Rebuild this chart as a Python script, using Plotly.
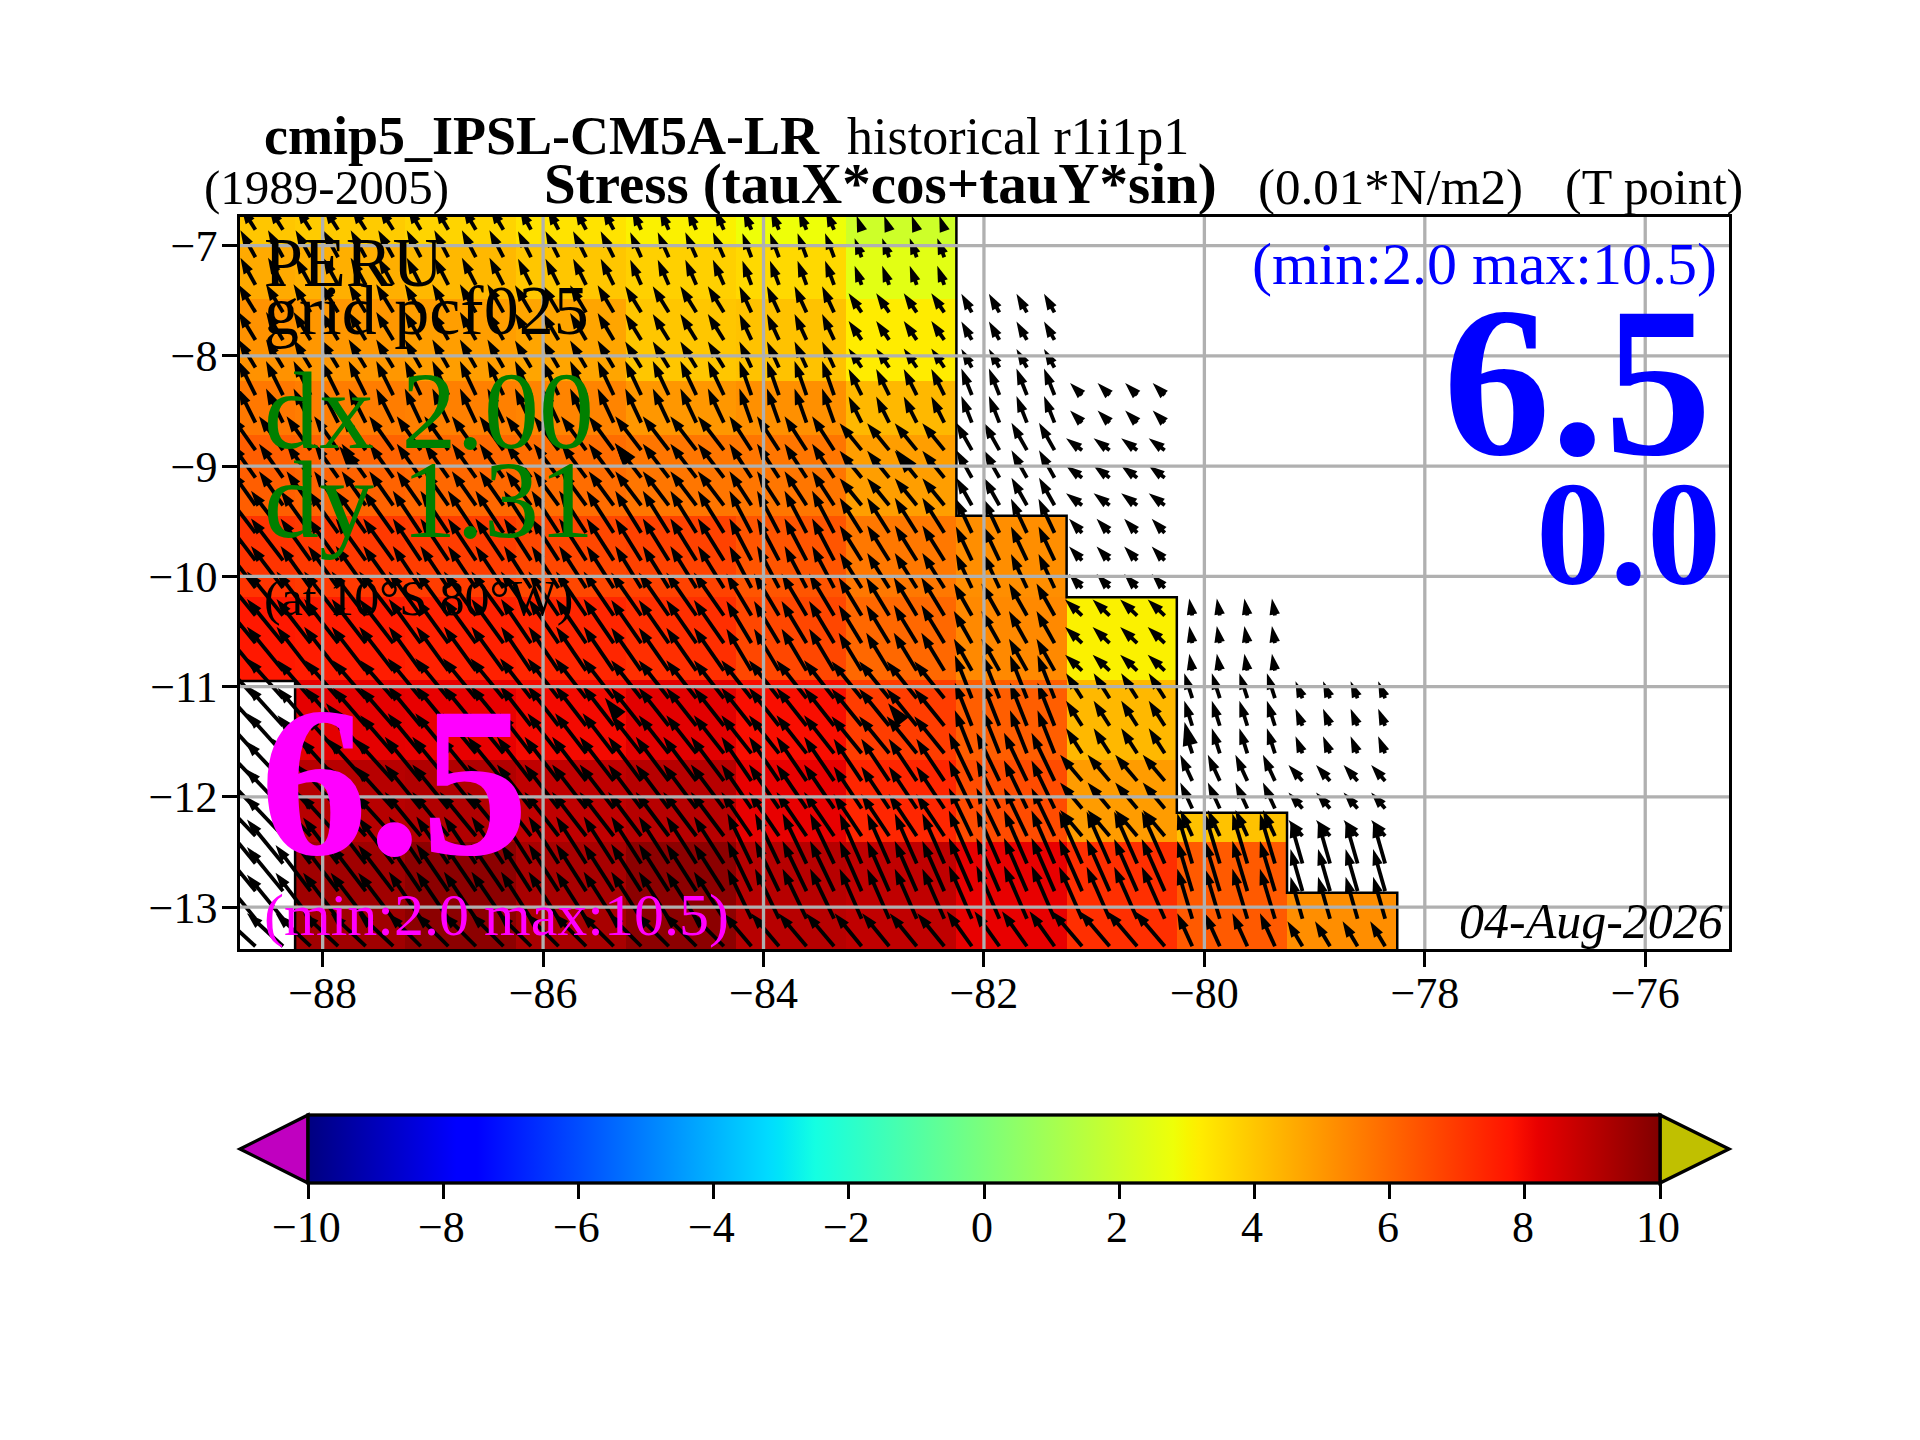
import math

import plotly.graph_objects as go

FIG_W, FIG_H = 1920, 1440
LEFT, RIGHT, TOP, BOTTOM = 240, 1729, 217, 949
FONT = "Liberation Serif"

# cell edges of the stress field (lon west to east, lat north to south)
LON_EDGES = [-88.75, -88.25, -87.25, -86.25, -85.25, -84.25, -83.25, -82.25, -81.25, -80.25, -79.25, -78.25]
LAT_EDGES = [-6.74, -7.0, -7.48, -8.225, -8.715, -9.45, -10.19, -10.94, -11.67, -12.145, -12.41, -12.87, -13.38]

N = None
STRESS = [
    [4.0, 3.9, 3.7, 3.4, 3.1, 2.8, 2.0, N, N, N, N],
    [4.6, 4.5, 4.3, 4.0, 3.8, 3.6, 2.5, N, N, N, N],
    [5.1, 5.0, 4.85, 4.7, 4.0, 4.1, 3.2, N, N, N, N],
    [5.65, 5.55, 5.5, 5.4, 5.0, 5.15, 4.3, N, N, N, N],
    [6.2, 6.1, 6.0, 5.9, 5.7, 5.7, 4.85, N, N, N, N],
    [7.1, 7.0, 6.9, 6.7, 6.8, 6.4, 5.65, 5.2, N, N, N],
    [7.7, 7.6, 7.5, 7.4, 7.2, 6.7, 6.0, 5.3, 3.1, N, N],
    [N, 8.25, 8.2, 8.0, 8.3, 7.9, 6.9, 6.2, 4.3, N, N],
    [N, 9.05, 9.15, 8.9, 9.05, 8.2, 7.4, 6.6, 4.9, N, N],
    [N, 9.05, 9.15, 8.9, 9.05, 8.2, 7.4, 6.6, 4.9, 4.1, N],
    [N, 9.45, 9.8, 9.3, 9.8, 9.05, 8.9, 8.2, 7.2, 6.3, N],
    [N, 9.45, 9.8, 9.3, 9.8, 9.05, 8.9, 8.2, 7.2, 6.3, 5.2],
]

# arrow components, one row per block of arrows
ARROW_LAT_EDGES = [-6.74, -7.0, -7.48, -8.225, -8.715, -9.45, -10.19, -10.94, -11.67, -12.41, -13.23, -13.38]
TAU_U = [
    [-2.8, -2.8, -2.6, -2.2, -1.8, -1.6, -1.0, N, N, N, N],
    [-3.0, -3.0, -2.8, -2.6, -2.2, -1.8, -1.4, N, N, N, N],
    [-3.4, -3.4, -3.2, -3.2, -3.2, -2.4, -2.6, -2.1, N, N, N],
    [-3.4, -3.4, -3.2, -3.2, -3.2, -2.4, -2.6, -2.1, -2.4, N, N],
    [-4.8, -4.8, -4.8, -5.0, -5.2, -4.4, -4.4, -3.1, -3.2, N, N],
    [-6.4, -6.0, -5.6, -5.4, -5.2, -4.4, -4.4, -3.2, -2.6, N, N],
    [-7.2, -6.8, -6.4, -6.0, -6.0, -5.0, -4.6, -3.6, -3.4, -0.6, N],
    [-7.2, -6.6, -6.6, -6.2, -6.0, -6.0, -6.0, -3.4, -3.2, -1.6, -1.4],
    [-7.6, -7.6, -7.2, -6.8, -6.6, -6.0, -5.6, -4.6, -4.4, -2.4, -2.8],
    [-7.2, -7.0, -6.4, -6.0, -6.0, -4.8, -4.4, -4.6, -4.6, -3.0, -2.4],
    [-7.2, -7.0, -6.6, -6.6, -6.6, -5.6, -5.4, -5.0, -6.0, -3.0, -3.0],
]
TAU_V = [
    [4.4, 4.4, 4.4, 4.2, 4.0, 3.8, 2.8, N, N, N, N],
    [5.4, 5.4, 5.4, 5.2, 5.0, 4.8, 3.8, N, N, N, N],
    [5.6, 5.6, 5.6, 5.4, 5.2, 5.2, 3.8, 3.7, N, N, N],
    [6.8, 6.8, 6.8, 6.8, 6.8, 6.8, 5.2, 5.3, 2.4, N, N],
    [6.8, 6.8, 6.8, 6.8, 6.8, 6.8, 5.4, 5.5, 2.4, N, N],
    [8.4, 8.4, 8.4, 8.4, 8.4, 8.4, 7.0, 6.8, 2.8, N, N],
    [8.8, 8.8, 8.8, 8.8, 8.6, 8.4, 7.6, 6.4, 3.2, 3.4, N],
    [8.0, 7.6, 8.0, 8.0, 7.6, 7.6, 7.4, 8.6, 5.0, 5.0, 3.4],
    [8.0, 8.4, 8.8, 8.8, 8.8, 8.8, 8.4, 9.6, 5.2, 5.2, 3.2],
    [8.8, 9.2, 9.4, 9.4, 9.4, 10.0, 10.0, 10.6, 10.4, 10.0, 8.4],
    [6.6, 6.6, 6.6, 6.6, 6.6, 6.6, 6.6, 7.0, 7.0, 6.6, 5.0],
]
ARROW_LONS = [
    -88.61, -88.36, -88.11, -87.86, -87.61, -87.36, -87.11, -86.86, -86.61, -86.36, -86.11, -85.86, -85.61, -85.36,
    -85.11, -84.86, -84.61, -84.36, -84.11, -83.86, -83.61, -83.36, -83.11, -82.86, -82.61, -82.36, -82.11, -81.86,
    -81.61, -81.36, -81.11, -80.86, -80.61, -80.36, -80.11, -79.86, -79.61, -79.36, -79.11, -78.86, -78.61, -78.36,
]
ARROW_LATS = [
    -6.855, -7.105, -7.355, -7.605, -7.855, -8.105, -8.355, -8.605, -8.855, -9.105, -9.355, -9.605, -9.855, -10.105,
    -10.355, -10.605, -10.855, -11.105, -11.355, -11.605, -11.855, -12.105, -12.355, -12.605, -12.855, -13.105, -13.355,
]

# oversized arrow heads (tip lon, tip lat, heading)
BIG_LON = [-87.85, -85.35, -82.80, -87.97, -85.44, -82.87, -80.18]
BIG_LAT = [-8.82, -8.79, -8.85, -11.15, -11.10, -11.15, -11.32]
BIG_ANGLE = [-38, -38, -38, -40, -38, -38, -14]

# land outline
COAST_LON = [-82.25, -82.25, -81.25, -81.25, -80.25, -80.25, -79.25, -79.25, -78.25, -78.25]
COAST_LAT = [-6.74, -9.45, -9.45, -10.19, -10.19, -12.145, -12.145, -12.87, -12.87, -13.38]
ISLAND_LON = [-88.75, -88.25, -88.25]
ISLAND_LAT = [-10.95, -10.95, -13.38]

X_TICKS = [-88, -86, -84, -82, -80, -78, -76]
Y_TICKS = [-7, -8, -9, -10, -11, -12, -13]
CBAR_TICKS = [-10, -8, -6, -4, -2, 0, 2, 4, 6, 8, 10]

# matplotlib jet
JET = [
    [0.0, "#000080"], [0.11, "#0000ff"], [0.125, "#0000ff"], [0.34, "#00dbff"], [0.35, "#00e5f8"],
    [0.375, "#14ffe2"], [0.64, "#eeff08"], [0.65, "#f7f600"], [0.66, "#ffec00"], [0.89, "#ff1300"],
    [0.91, "#e80000"], [1.0, "#800000"],
]


def paper_x(px):
    return (px - LEFT) / (RIGHT - LEFT)


def paper_y(py):
    return (BOTTOM - py) / (BOTTOM - TOP)


def arrow_marks(scale=5 / 110.2, head=10 / 110.2):
    """One shaft and one head for each arrow that has a value"""
    shaft_x, shaft_y, tip_x, tip_y, angle = [], [], [], [], []
    for lat in ARROW_LATS:
        row = next(i for i in range(len(TAU_U)) if lat >= ARROW_LAT_EDGES[i + 1])
        for lon in ARROW_LONS:
            col = next(i for i in range(len(LON_EDGES) - 1) if lon <= LON_EDGES[i + 1])
            u, v = TAU_U[row][col], TAU_V[row][col]
            if u is None:
                continue
            dx, dy = u * scale, v * scale
            length = math.hypot(dx, dy)
            keep = max(length - head, 0) / length
            shaft_x += [lon, lon + dx * keep, None]
            shaft_y += [lat, lat + dy * keep, None]
            tip_x.append(lon + dx)
            tip_y.append(lat + dy)
            angle.append(math.degrees(math.atan2(u, v)))
    return shaft_x, shaft_y, tip_x, tip_y, angle


fig = go.Figure()

fig.add_trace(
    go.Heatmap(
        x=LON_EDGES,
        y=LAT_EDGES[::-1],
        z=STRESS[::-1],
        zmin=-10,
        zmax=10,
        colorscale=JET,
        colorbar=dict(
            orientation="h",
            lenmode="pixels",
            len=1352,
            thicknessmode="pixels",
            thickness=68,
            x=paper_x(308),
            y=paper_y(1115),
            xanchor="left",
            yanchor="top",
            xpad=0,
            ypad=0,
            outlinecolor="black",
            outlinewidth=3.3,
            tickvals=CBAR_TICKS,
            ticks="outside",
            ticklen=14.6,
            tickwidth=3.3,
            tickcolor="black",
            showticklabels=False,
        ),
    )
)

shaft_x, shaft_y, tip_x, tip_y, angle = arrow_marks()
fig.add_trace(
    go.Scatter(x=shaft_x, y=shaft_y, mode="lines", line=dict(color="black", width=3.8))
)
fig.add_trace(
    go.Scatter(
        x=tip_x,
        y=tip_y,
        mode="markers",
        marker=dict(symbol="arrow", size=17, angle=angle, color="black", line=dict(width=0)),
    )
)
fig.add_trace(
    go.Scatter(
        x=BIG_LON,
        y=BIG_LAT,
        mode="markers",
        marker=dict(symbol="arrow", size=25, angle=BIG_ANGLE, color="black", line=dict(width=0)),
    )
)
for lons, lats in [(COAST_LON, COAST_LAT), (ISLAND_LON, ISLAND_LAT)]:
    fig.add_trace(
        go.Scatter(x=lons, y=lats, mode="lines", line=dict(color="black", width=2.5))
    )

# the grid sits over the arrows
for tick in X_TICKS:
    fig.add_vline(x=tick, line=dict(color="#b0b0b0", width=3.3), layer="above")
for tick in Y_TICKS:
    fig.add_hline(y=tick, line=dict(color="#b0b0b0", width=3.3), layer="above")

# colorbar extensions
bar_l, bar_r, bar_t, bar_b = paper_x(308), paper_x(1660), paper_y(1115), paper_y(1183)
bar_m = (bar_t + bar_b) / 2
fig.add_shape(
    type="path",
    xref="paper",
    yref="paper",
    path=f"M{bar_l},{bar_t} L{bar_l},{bar_b} L{paper_x(240)},{bar_m} Z",
    fillcolor="#c000c0",
    line=dict(color="black", width=3.3),
)
fig.add_shape(
    type="path",
    xref="paper",
    yref="paper",
    path=f"M{bar_r},{bar_t} L{bar_r},{bar_b} L{paper_x(1729)},{bar_m} Z",
    fillcolor="#c0c000",
    line=dict(color="black", width=3.3),
)


def add_label(text, px, baseline, size, color="black", anchor="left"):
    # Liberation Serif descends 0.216 em under the baseline
    fig.add_annotation(
        text=text,
        xref="paper",
        yref="paper",
        x=paper_x(px),
        y=paper_y(baseline + 0.216 * size + 1),
        xanchor=anchor,
        yanchor="bottom",
        showarrow=False,
        font=dict(family=FONT, size=size, color=color),
    )


add_label("<b>cmip5_IPSL-CM5A-LR</b>", 262, 155, 54)
add_label("historical r1i1p1", 845, 155, 52)
add_label("(1989-2005)", 202, 205, 49)
add_label("<b>Stress (tauX*cos+tauY*sin)</b>", 542, 205, 57)
add_label("(0.01*N/m2)", 1256, 205, 51)
add_label("(T point)", 1563, 205, 50)

add_label("PERU", 262, 287, 70)
add_label("grid pcf025", 262, 335, 70)
add_label("dx 2.00", 262, 449, 110, "#008000")
add_label("dy 1.31", 262, 538, 110, "#008000")
add_label("(at 10°S 80°W)", 262, 616, 50)
add_label("<b>6.5</b>", 258, 856, 215, "#ff00ff")
add_label("(min:2.0 max:10.5)", 262, 936, 60, "#ff00ff")

add_label("(min:2.0 max:10.5)", 1719, 285, 60, "#0000ff", "right")
add_label("<b>6.5</b>", 1714, 456, 215, "#0000ff", "right")
add_label("<b>0.0</b>", 1723, 585, 148, "#0000ff", "right")
add_label("<i>04-Aug-2026</i>", 1725, 939, 50, "black", "right")

# colorbar tick labels
for tick in CBAR_TICKS:
    tick_text = f"\u2212{abs(tick)}" if tick < 0 else f"{tick}"
    add_label(tick_text, 308 + (tick + 10) / 20 * 1352 - 2, 1243, 44, anchor="center")

fig.update_layout(
    width=FIG_W,
    height=FIG_H,
    margin=dict(l=LEFT, r=FIG_W - RIGHT, t=TOP, b=FIG_H - BOTTOM, pad=0, autoexpand=False),
    plot_bgcolor="white",
    paper_bgcolor="white",
    showlegend=False,
    xaxis=dict(
        range=[-88.75, -75.24],
        tickvals=X_TICKS,
        showgrid=False,
        zeroline=False,
        ticks="outside",
        ticklen=14.6,
        tickwidth=3.3,
        tickcolor="black",
        ticklabelstandoff=-12,
        showline=True,
        linecolor="black",
        linewidth=3.3,
        mirror=True,
        tickfont=dict(family=FONT, size=44, color="black"),
    ),
    yaxis=dict(
        range=[-13.38, -6.74],
        tickvals=Y_TICKS,
        showgrid=False,
        zeroline=False,
        ticks="outside",
        ticklen=14.6,
        tickwidth=3.3,
        tickcolor="black",
        ticklabelstandoff=-4,
        showline=True,
        linecolor="black",
        linewidth=3.3,
        mirror=True,
        tickfont=dict(family=FONT, size=44, color="black"),
    ),
)

# the page's default body margin would push the figure 8 px off
fig.write_html(
    "out.html",
    config={"displayModeBar": False},
    post_script="document.body.style.margin = '0';",
)
